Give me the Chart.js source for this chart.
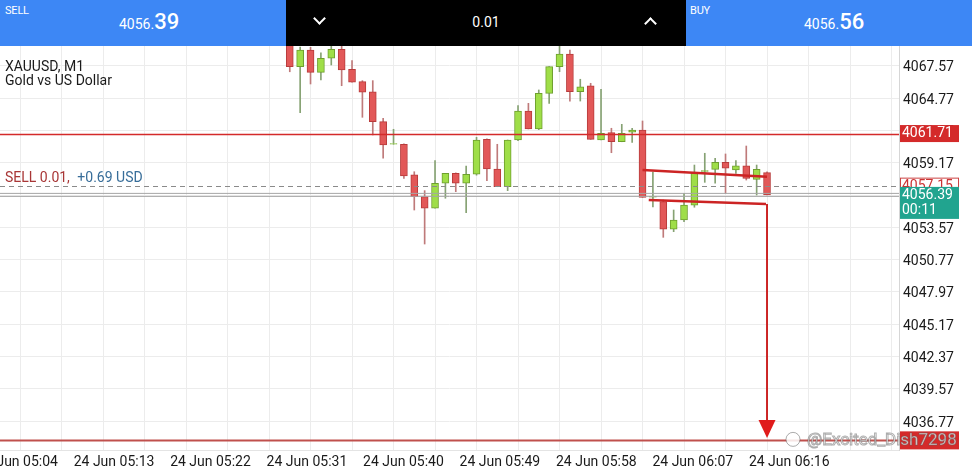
<!DOCTYPE html>
<html>
<head>
<meta charset="utf-8">
<script src="https://cdn.jsdelivr.net/npm/chart.js@4.4.1/dist/chart.umd.min.js"></script>
<style>
  html, body { margin: 0; padding: 0; background: #fff; }
  #wrap { position: relative; width: 972px; height: 473px; overflow: hidden; font-family: Roboto, 'Noto Sans', sans-serif; }
  canvas { position: absolute; left: 0; top: 0; }
  .bar { position: absolute; top: 0; height: 46px; color: #fff; }
  .blue { background: #3d87f5; }
  .black { background: #000; }
  .tag { position: absolute; top: 4px; font-size: 11px; letter-spacing: -0.2px; }
  .price { position: absolute; top: 9px; white-space: nowrap; }
  .price small { font-size: 14px; }
  .price b { font-size: 22px; font-weight: 500; }
  .chev { position: absolute; width: 7px; height: 7px; border-right: 2px solid #fff; border-bottom: 2px solid #fff; }
</style>
</head>
<body>
<div id="wrap">
  <canvas id="chart" width="972" height="473"></canvas>
  <div class="bar blue" style="left:0;width:286px">
    <span class="tag" style="left:5px">SELL</span>
    <span class="price" style="left:119px"><small>4056.</small><b>39</b></span>
  </div>
  <div class="bar black" style="left:286px;width:400px">
    <span class="chev" style="left:29px;top:14px;transform:rotate(45deg)"></span>
    <span style="position:absolute;left:0;width:400px;top:14px;text-align:center;font-size:14px">0.01</span>
    <span class="chev" style="left:360px;top:19px;transform:rotate(-135deg)"></span>
  </div>
  <div class="bar blue" style="left:686px;width:286px">
    <span class="tag" style="left:4px">BUY</span>
    <span class="price" style="left:118px"><small>4056.</small><b>56</b></span>
  </div>
</div>
<script>
// XAUUSD M1 candles, oldest first
const opens  = [4069.60, 4067.51, 4068.96, 4067.02, 4068.24, 4069.02, 4067.28, 4066.21, 4065.34, 4062.74,
                4060.78, 4060.78, 4058.12, 4056.24, 4055.23, 4057.40, 4058.26, 4057.40, 4058.18, 4061.21,
                4058.64, 4057.10, 4061.15, 4063.67, 4062.11, 4065.20, 4067.51, 4068.61, 4065.34, 4065.84,
                4061.15, 4061.79, 4061.00, 4061.82, 4062.02, 4056.20, 4055.80, 4053.41, 4054.21, 4055.51,
                4058.42, 4058.61, 4059.22, 4058.55, 4058.92, 4057.74, 4058.32];
const highs  = [4070.10, 4069.20, 4069.19, 4068.72, 4069.39, 4069.60, 4068.03, 4066.30, 4066.30, 4063.03,
                4062.08, 4060.82, 4058.40, 4056.76, 4059.36, 4058.26, 4058.30, 4058.90, 4061.39, 4061.25,
                4060.78, 4061.15, 4064.13, 4064.33, 4065.49, 4067.51, 4069.30, 4068.96, 4066.42, 4066.07,
                4065.55, 4062.17, 4062.51, 4062.17, 4062.80, 4058.38, 4055.95, 4055.08, 4056.53, 4058.98,
                4060.00, 4059.57, 4059.94, 4059.36, 4060.63, 4058.98, 4058.40];
const lows   = [4067.07, 4063.52, 4066.01, 4066.36, 4067.66, 4065.86, 4066.16, 4063.12, 4061.59, 4059.57,
                4060.78, 4057.83, 4055.08, 4052.13, 4055.23, 4056.10, 4056.67, 4054.85, 4058.10, 4057.62,
                4057.10, 4056.76, 4061.10, 4062.11, 4062.05, 4064.33, 4067.08, 4064.53, 4064.53, 4061.21,
                4061.15, 4060.05, 4061.00, 4060.95, 4056.18, 4055.34, 4052.71, 4053.20, 4054.07, 4055.32,
                4057.48, 4057.40, 4056.53, 4058.26, 4057.68, 4056.38, 4056.39];
const closes = [4067.51, 4068.96, 4067.02, 4068.24, 4069.02, 4067.22, 4066.16, 4065.29, 4062.74, 4060.72,
                4060.84, 4058.03, 4056.24, 4055.23, 4057.40, 4058.26, 4057.40, 4058.18, 4061.15, 4058.64,
                4057.10, 4061.15, 4063.67, 4062.11, 4065.20, 4067.51, 4068.61, 4065.34, 4065.77, 4061.21,
                4061.73, 4061.00, 4061.73, 4062.02, 4056.18, 4056.26, 4053.41, 4054.21, 4055.51, 4058.32,
                4058.50, 4059.22, 4058.70, 4058.92, 4057.83, 4058.61, 4056.39];

const timeLabels = ['24 Jun 05:04', '24 Jun 05:13', '24 Jun 05:22', '24 Jun 05:31', '24 Jun 05:40',
                    '24 Jun 05:49', '24 Jun 05:58', '24 Jun 06:07', '24 Jun 06:16'];
const priceTicks = [4036.77, 4039.57, 4042.37, 4045.17, 4047.97, 4050.77, 4053.57, 4056.37,
                    4059.17, 4061.97, 4064.77, 4067.57, 4070.37];

const bid = 4056.39;
const levelPrice = 4061.71;      // red horizontal level
const targetPrice = 4035.10;     // red level at the bottom
const positionPrice = 4057.15;   // SELL 0.01 open price
const positionText = ['SELL 0.01,', '+0.69 USD'];
const timer = '00:11';
const channelTop = [[34, 4058.55], [46, 4057.97]];
const channelBottom = [[34.6, 4055.95], [45.9, 4055.60]];
const arrowFrom = [46, 4055.60];
const arrowTo = [46, 4035.31];

const GREEN = '#9fde48', GREEN_EDGE = '#6e9f2e', GREEN_WICK = '#86a273';
const RED = '#e25858', RED_EDGE = '#b83b3b', RED_WICK = '#bf7a7a';
const LINE_RED = '#d42a2a';
const FONT = 'Roboto, "Noto Sans", sans-serif';

const up = i => closes[i] >= opens[i];
const idx = opens.map((_, i) => i);

function toMinutes(label) {
    const hm = label.split(' ')[2].split(':');
    return +hm[0] * 60 + +hm[1];
}

const overlay = {
    id: 'overlay',
    afterDatasetsDraw(chart) {
        const { ctx, chartArea: a, scales: { x, y } } = chart;
        ctx.save();
        const hline = (v, color, width, dash) => {
            const py = Math.round(y.getPixelForValue(v)) + 0.5;
            ctx.strokeStyle = color; ctx.lineWidth = width; ctx.setLineDash(dash || []);
            ctx.beginPath(); ctx.moveTo(a.left, py); ctx.lineTo(a.right, py); ctx.stroke();
        };
        // position line and bid line
        hline(positionPrice, '#8a8a8a', 1, [5, 4]);
        const by = y.getPixelForValue(bid);
        ctx.setLineDash([]);
        ctx.strokeStyle = '#a6a6a6'; ctx.lineWidth = 1;
        [by - 1.5, by + 1.5].forEach(py => {
            ctx.beginPath(); ctx.moveTo(a.left, py); ctx.lineTo(a.right, py); ctx.stroke();
        });
        hline(levelPrice, LINE_RED, 1.5);
        hline(targetPrice, '#c0504d', 2);

        // drawn channel
        ctx.strokeStyle = '#cc2424'; ctx.lineWidth = 2.5;
        [channelTop, channelBottom].forEach(seg => {
            ctx.beginPath();
            ctx.moveTo(x.getPixelForValue(seg[0][0]), y.getPixelForValue(seg[0][1]));
            ctx.lineTo(x.getPixelForValue(seg[1][0]), y.getPixelForValue(seg[1][1]));
            ctx.stroke();
        });
        // arrow down
        const ax = x.getPixelForValue(arrowFrom[0]);
        const ay0 = y.getPixelForValue(arrowFrom[1]);
        const ay1 = y.getPixelForValue(arrowTo[1]);
        ctx.lineWidth = 2;
        ctx.beginPath(); ctx.moveTo(ax, ay0); ctx.lineTo(ax, ay1 - 14); ctx.stroke();
        ctx.fillStyle = '#e01b1b';
        ctx.beginPath(); ctx.moveTo(ax - 8.5, ay1 - 18); ctx.lineTo(ax + 8.5, ay1 - 18); ctx.lineTo(ax, ay1); ctx.closePath(); ctx.fill();

        // texts on the chart
        ctx.textBaseline = 'middle';
        ctx.font = '14px ' + FONT;
        ctx.fillStyle = '#1a1a1a';
        ctx.fillText('XAUUSD, M1', 5, 67);
        ctx.fillText('Gold vs US Dollar', 5, 81);
        const py = y.getPixelForValue(positionPrice) - 8;
        ctx.fillStyle = '#a83636';
        ctx.fillText(positionText[0], 5, py);
        const w = ctx.measureText(positionText[0] + ' ').width;
        ctx.fillStyle = '#376d99';
        ctx.fillText(positionText[1], 5 + w + 4, py);
        ctx.restore();
    },
    afterDraw(chart) {
        const { ctx, chartArea: a, scales: { y } } = chart;
        ctx.save();
        ctx.font = '14px ' + FONT;
        ctx.textBaseline = 'middle';
        const box = (v, fill, edge, text, color, h) => {
            const cy = y.getPixelForValue(v);
            ctx.fillStyle = fill;
            ctx.fillRect(a.right + 1, cy - h / 2, 59, h);
            if (edge) { ctx.strokeStyle = edge; ctx.lineWidth = 1; ctx.strokeRect(a.right + 1.5, cy - h / 2 + 0.5, 58, h - 1); }
            ctx.fillStyle = color;
            ctx.fillText(text, a.right + 3, cy);
        };
        box(levelPrice, '#d42a2a', null, levelPrice.toFixed(2), '#fff', 17);
        box(positionPrice, '#fff', '#c44', positionPrice.toFixed(2), '#c33', 17);
        box(targetPrice, '#d42a2a', null, '', '#fff', 18);
        // bid + timer
        const by = y.getPixelForValue(bid);
        ctx.fillStyle = '#21a48f';
        ctx.fillRect(a.right + 1, by - 8, 59, 32);
        ctx.fillStyle = '#fff';
        ctx.fillText(bid.toFixed(2), a.right + 3, by + 0.5);
        ctx.fillText(timer, a.right + 3, by + 16);

        // watermark
        const wy = y.getPixelForValue(targetPrice);
        ctx.font = '17px ' + FONT;
        ctx.lineWidth = 1;
        ctx.strokeStyle = 'rgba(90,90,90,0.5)';
        ctx.fillStyle = 'rgba(255,255,255,0.85)';
        ctx.beginPath(); ctx.arc(793, wy - 1, 7, 0, Math.PI * 2); ctx.fill(); ctx.stroke();
        ctx.fillText('@Excited_Dish7298', 807, wy);
        ctx.strokeText('@Excited_Dish7298', 807, wy);
        ctx.restore();
    }
};

new Chart(document.getElementById('chart'), {
    type: 'bar',
    data: {
        datasets: [{
            label: 'body',
            order: 0,
            xAxisID: 'x',
            data: idx.map(i => ({ x: i, y: [opens[i], closes[i]] })),
            backgroundColor: c => up(c.dataIndex) ? GREEN : RED,
            borderColor: c => up(c.dataIndex) ? GREEN_EDGE : RED_EDGE,
            borderWidth: 1,
            borderSkipped: false,
            barThickness: 7,
            grouped: false
        }, {
            label: 'wick',
            order: 1,
            xAxisID: 'x',
            data: idx.map(i => ({ x: i, y: [lows[i], highs[i]] })),
            backgroundColor: c => up(c.dataIndex) ? GREEN_WICK : RED_WICK,
            borderWidth: 0,
            barThickness: 1,
            grouped: false
        }]
    },
    options: {
        responsive: false,
        animation: false,
        layout: { padding: 0 },
        plugins: { legend: { display: false }, tooltip: { enabled: false } },
        scales: {
            x: {
                type: 'linear',
                position: 'bottom',
                offset: false,
                min: -27.93,
                max: 58.72,
                afterBuildTicks: s => {
                    const t = [];
                    for (let v = -26; v <= 58; v += 4) t.push({ value: v });
                    s.ticks = t;
                },
                afterFit: s => { s.height = 0; s.paddingLeft = 0; s.paddingRight = 0; },
                ticks: { display: false },
                border: { display: false },
                grid: { offset: false, color: '#ececec', drawTicks: false }
            },
            xt: {
                type: 'linear',
                position: 'bottom',
                offset: false,
                min: 302.36,
                max: 386.24,
                afterBuildTicks: s => { s.ticks = timeLabels.map(l => ({ value: toMinutes(l) })); },
                afterFit: s => { s.height = 23; s.paddingLeft = 0; s.paddingRight = 0; },
                ticks: {
                    autoSkip: false,
                    maxRotation: 0,
                    padding: 4,
                    color: '#1a1a1a',
                    font: { family: FONT, size: 14 },
                    callback: v => timeLabels.find(l => toMinutes(l) === v) || ''
                },
                grid: { display: false, offset: false, drawTicks: false },
                border: { color: '#e4e4e4' }
            },
            y: {
                position: 'right',
                min: 4034.265,
                max: 4073.294,
                afterBuildTicks: s => { s.ticks = priceTicks.map(v => ({ value: v })); },
                afterFit: s => { s.width = 73; s.paddingTop = 0; s.paddingBottom = 0; },
                ticks: {
                    padding: 4,
                    labelOffset: 2,
                    color: '#1a1a1a',
                    font: { family: FONT, size: 14 },
                    callback: v => v.toFixed(2)
                },
                grid: { color: '#ececec', drawTicks: false },
                border: { color: '#d6d6d6' }
            }
        }
    },
    plugins: [overlay]
});
</script>
</body>
</html>
